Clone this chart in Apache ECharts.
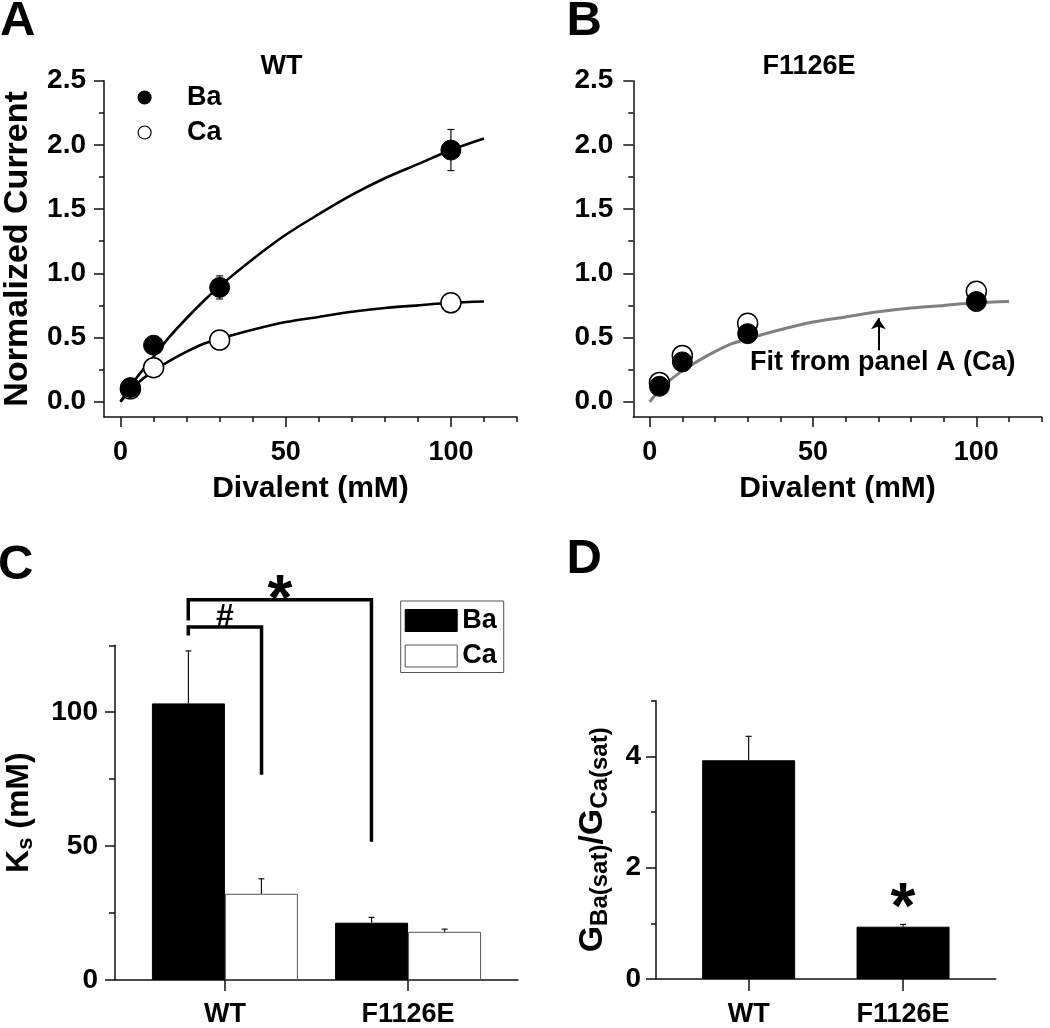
<!DOCTYPE html>
<html><head><meta charset="utf-8">
<script src="https://cdn.jsdelivr.net/npm/echarts@6/dist/echarts.min.js"></script>
<style>html,body{margin:0;padding:0;background:#fff}#c{width:1050px;height:1028px}</style>
</head><body><div id="c"></div>
<script>
// ---------- Panels A & B : concentration-response ----------
const concentrations = [3, 10, 30, 100];
const wtBa = [0.11, 0.44, 0.89, 1.96];
const wtBaErr = [0.02, 0.03, 0.09, 0.16];
const wtCa = [0.10, 0.265, 0.48, 0.77];
const wtCaErr = [0.01, 0.02, 0.02, 0.03];
const mutBa = [0.12, 0.31, 0.53, 0.78];
const mutCa = [0.15, 0.36, 0.61, 0.86];
const fitX = [0, 5, 10, 15, 20, 25, 30, 40, 50, 60, 70, 80, 90, 100, 110];
const fitBa = [0, 0.19, 0.35, 0.51, 0.65, 0.78, 0.90, 1.11, 1.30, 1.46, 1.61, 1.74, 1.85, 1.96, 2.05];
const fitCa = [0, 0.14, 0.24, 0.32, 0.39, 0.45, 0.49, 0.56, 0.62, 0.66, 0.70, 0.73, 0.75, 0.77, 0.78];
const curveMajorY = [0, 0.5, 1, 1.5, 2, 2.5];
const curveMinorY = [0.25, 0.75, 1.25, 1.75, 2.25];
const curveMajorX = [0, 50, 100];
const curveMinorX = [10, 20, 30, 40, 60, 70, 80, 90, 110, 120];
const fitNote = 'Fit from panel A (Ca)';
const fitNoteX = 30.7, fitNoteY = 0.305;
const arrowX = 70, arrowY = [0.40, 0.65];

// ---------- Panel C : Ks ----------
const groups = ['WT', 'F1126E'];
const groupPos = [1, 2];
const ksBa = [103.3, 21.4];
const ksBaErr = [19.6, 2.0];
const ksCa = [32.2, 18.0];
const ksCaErr = [5.6, 1.0];
const ksMajor = [0, 50, 100];
const ksMinor = [25, 75, 125];
const hashBracketX = [0.8, 0.8, 1.2, 1.2];
const hashBracketY = [128.7, 131.8, 131.8, 76.7];
const starBracketX = [0.8, 0.8, 1.8, 1.8];
const starBracketY = [134.3, 142, 142, 51.6];
const sigText = ['#', '*'];
const sigX = [1.0, 1.3];
const sigY = [135.5, 146];

// ---------- Panel D : G ratio ----------
const ratio = [3.93, 0.94];
const ratioErr = [0.43, 0.04];
const ratioMajor = [0, 2, 4];
const ratioMinor = [1, 3, 5];
const ratioSigText = ['*'];
const ratioSigX = [2];
const ratioSigY = [1.46];

const FONT = '"Liberation Sans", Arial, Helvetica, sans-serif';
const AX = '#111';
const txt = (size) => ({fontSize: size, fontWeight: 'bold', fontFamily: FONT, color: '#000'});

function axisPair(kind, grid, min, max, major, minor, majLen, minLen, labelOpt, nameOpt) {
  const pos = kind === 'x' ? 'bottom' : 'left';
  const main = Object.assign({
    gridIndex: grid, type: 'value', min, max, position: pos, offset: 0,
    axisLine: {show: true, onZero: false, lineStyle: {color: AX, width: 1.5}},
    axisTick: {show: true, length: majLen, customValues: major, lineStyle: {color: AX, width: 1.5}},
    axisLabel: Object.assign({show: !!labelOpt, customValues: major}, labelOpt || {}),
    splitLine: {show: false}
  }, nameOpt || {});
  const list = [main];
  if (minor) list.push({
    gridIndex: grid, type: 'value', min, max, position: pos, offset: 0,
    axisLine: {show: false, onZero: false},
    axisTick: {show: true, length: minLen, customValues: minor, lineStyle: {color: AX, width: 1.5}},
    axisLabel: {show: false}, splitLine: {show: false}
  });
  return list;
}

const xLab = Object.assign({margin: 22}, txt(27));
const xName = {name: 'Divalent (mM)', nameLocation: 'middle', nameGap: 57, nameTextStyle: txt(30)};
const catLab = Object.assign({margin: 21, formatter: v => groups[groupPos.indexOf(v)]}, txt(27));

const xAxes = [].concat(
  axisPair('x', 0, -5, 120, curveMajorX, curveMinorX, 10, 5, xLab, xName),        // 0,1
  axisPair('x', 1, -5, 120, curveMajorX, curveMinorX, 10, 5, xLab, xName),        // 2,3
  axisPair('x', 2, 0.4, 2.6, groupPos, null, 11, 0, catLab),                      // 4
  axisPair('x', 3, 0.4, 2.6, groupPos, null, 12, 0, Object.assign({}, catLab, {margin: 22})) // 5
);
const yAxes = [].concat(
  axisPair('y', 0, -0.12, 2.5, curveMajorY, curveMinorY, 10, 5,
    Object.assign({margin: 18, formatter: v => v.toFixed(1)}, txt(28)),
    {name: 'Normalized Current', nameLocation: 'middle', nameRotate: 90, nameGap: 69, nameTextStyle: txt(34)}), // 0,1
  axisPair('y', 1, -0.12, 2.5, curveMajorY, curveMinorY, 10, 5,
    Object.assign({margin: 20, formatter: v => v.toFixed(1)}, txt(28))),          // 2,3
  axisPair('y', 2, 0, 125, ksMajor, ksMinor, 10, 6,
    Object.assign({margin: 17}, txt(28)),
    {name: '{m|K}{s|s}{m| (mM)}', nameLocation: 'middle', nameRotate: 90, nameGap: 78,
     nameTextStyle: {color: '#000', rich: {
       m: {fontSize: 32, fontWeight: 'bold', fontFamily: FONT, color: '#000'},
       s: {fontSize: 22, fontWeight: 'bold', fontFamily: FONT, color: '#000', padding: [14, 0, 0, 0]}}}}), // 4,5
  axisPair('y', 3, 0, 5, ratioMajor, ratioMinor, 10, 5,
    Object.assign({margin: 15}, txt(28)),
    {name: '{m|G}{s|Ba(sat)}{m|/G}{s|Ca(sat)}', nameLocation: 'middle', nameRotate: 90, nameGap: 44,
     nameTextStyle: {color: '#000', rich: {
       m: {fontSize: 34, fontWeight: 'bold', fontFamily: FONT, color: '#000'},
       s: {fontSize: 24, fontWeight: 'bold', fontFamily: FONT, color: '#000', padding: [14, 0, 0, 0]}}}}) // 6,7
);

function errorBars(xi, yi, data, pxOffset, capHalf, both, z) {
  return {
    type: 'custom', xAxisIndex: xi, yAxisIndex: yi, data, z, silent: true, clip: false,
    encode: {x: 0, y: [1, 2]},
    renderItem(params, api) {
      const x = api.value(0), lo = api.value(1), hi = api.value(2);
      const p1 = api.coord([x, hi]), p0 = api.coord([x, lo]);
      const cx = p1[0] + pxOffset;
      const st = {stroke: '#111', lineWidth: 1.2};
      const ch = [
        {type: 'line', shape: {x1: cx, y1: p1[1], x2: cx, y2: p0[1]}, style: st},
        {type: 'line', shape: {x1: cx - capHalf, y1: p1[1], x2: cx + capHalf, y2: p1[1]}, style: st}
      ];
      if (both) ch.push({type: 'line', shape: {x1: cx - capHalf, y1: p0[1], x2: cx + capHalf, y2: p0[1]}, style: st});
      return {type: 'group', children: ch};
    }
  };
}
function textMarks(xi, yi, xs, ys, texts) {
  return {
    type: 'scatter', xAxisIndex: xi, yAxisIndex: yi, clip: false, silent: true, z: 8,
    symbolSize: 1, itemStyle: {color: 'transparent', opacity: 1},
    data: xs.map((x, i) => ({
      value: [x, ys[i]],
      label: {formatter: texts[i], fontSize: texts[i] === '*' ? 64 : 32, offset: [0, texts[i] === '*' ? 13 : 0]}
    })),
    label: {show: true, position: 'inside', align: 'center', verticalAlign: 'middle', opacity: 1,
            fontWeight: 'bold', fontFamily: FONT, color: '#000'}
  };
}
const pairs = (xs, ys) => xs.map((x, i) => [x, ys[i]]);
const openDot = {color: '#fff', borderColor: '#000', borderWidth: 1.5, opacity: 1};
const fullDot = {color: '#000', borderColor: '#000', borderWidth: 1, opacity: 1};

const series = [
  // Panel A
  {name: 'Ca', type: 'scatter', xAxisIndex: 0, yAxisIndex: 0, data: pairs(concentrations, wtCa), symbolSize: 20,
   itemStyle: openDot, z: 4},
  {name: 'Ba', type: 'scatter', xAxisIndex: 0, yAxisIndex: 0, data: pairs(concentrations, wtBa), symbolSize: 20,
   itemStyle: fullDot, z: 5},
  {type: 'line', xAxisIndex: 0, yAxisIndex: 0, data: pairs(fitX, fitBa), smooth: 0.3, symbol: 'none', silent: true,
   lineStyle: {color: '#000', width: 2.6}, z: 2},
  {type: 'line', xAxisIndex: 0, yAxisIndex: 0, data: pairs(fitX, fitCa), smooth: 0.3, symbol: 'none', silent: true,
   lineStyle: {color: '#000', width: 2.6}, z: 2},
  errorBars(0, 0, concentrations.map((c, i) => [c, wtBa[i] - wtBaErr[i], wtBa[i] + wtBaErr[i]]), 0, 3.5, true, 3),
  errorBars(0, 0, concentrations.map((c, i) => [c, wtCa[i] - wtCaErr[i], wtCa[i] + wtCaErr[i]]), 0, 3.5, true, 3),
  // Panel B
  {type: 'line', xAxisIndex: 2, yAxisIndex: 2, data: pairs(fitX, fitCa), smooth: 0.3, symbol: 'none', silent: true,
   lineStyle: {color: '#808080', width: 3}, z: 2,
   markLine: {silent: true, symbol: ['none', 'arrow'], symbolSize: 11, label: {show: false},
     lineStyle: {color: '#000', width: 2, type: 'solid'},
     data: [[{coord: [arrowX, arrowY[0]]}, {coord: [arrowX, arrowY[1]]}]]}},
  {name: 'Ca F1126E', type: 'scatter', xAxisIndex: 2, yAxisIndex: 2, data: pairs(concentrations, mutCa), symbolSize: 20,
   itemStyle: openDot, z: 4},
  {name: 'Ba F1126E', type: 'scatter', xAxisIndex: 2, yAxisIndex: 2, data: pairs(concentrations, mutBa), symbolSize: 20,
   itemStyle: fullDot, z: 5},
  {type: 'scatter', xAxisIndex: 2, yAxisIndex: 2, data: [[fitNoteX, fitNoteY]], symbolSize: 1, silent: true,
   itemStyle: {color: 'transparent', opacity: 1}, z: 8,
   label: Object.assign({show: true, position: 'inside', align: 'left', verticalAlign: 'middle', opacity: 1, formatter: fitNote}, txt(27))},
  // Panel C
  {name: 'Ba bar', type: 'bar', xAxisIndex: 4, yAxisIndex: 4, data: pairs(groupPos, ksBa), barWidth: 73, barGap: '0%',
   itemStyle: {color: '#000', borderColor: '#000', borderWidth: 1}, z: 2},
  {name: 'Ca bar', type: 'bar', xAxisIndex: 4, yAxisIndex: 4, data: pairs(groupPos, ksCa), barWidth: 73, barGap: '0%',
   itemStyle: {color: '#fff', borderColor: '#555', borderWidth: 1}, z: 2},
  errorBars(4, 4, groupPos.map((p, i) => [p, ksBa[i], ksBa[i] + ksBaErr[i]]), -36.5, 3, false, 3),
  errorBars(4, 4, groupPos.map((p, i) => [p, ksCa[i], ksCa[i] + ksCaErr[i]]), 36.5, 3, false, 3),
  {type: 'line', xAxisIndex: 4, yAxisIndex: 4, data: pairs(hashBracketX, hashBracketY), symbol: 'none', clip: false,
   silent: true, lineStyle: {color: '#000', width: 3.5, cap: 'butt', join: 'miter'}, z: 6},
  {type: 'line', xAxisIndex: 4, yAxisIndex: 4, data: pairs(starBracketX, starBracketY), symbol: 'none', clip: false,
   silent: true, lineStyle: {color: '#000', width: 3.5, cap: 'butt', join: 'miter'}, z: 6},
  textMarks(4, 4, sigX, sigY, sigText),
  // Panel D
  {type: 'bar', xAxisIndex: 5, yAxisIndex: 6, data: pairs(groupPos, ratio), barWidth: 93,
   itemStyle: {color: '#000', borderColor: '#000', borderWidth: 1}, z: 2},
  errorBars(5, 6, groupPos.map((p, i) => [p, ratio[i], ratio[i] + ratioErr[i]]), 0, 3, false, 3),
  textMarks(5, 6, ratioSigX, ratioSigY, ratioSigText)
];

const gtext = (t, x, y, size, align) => ({
  type: 'text', x, y, silent: true,
  style: {text: t, fontSize: size, fontWeight: 'bold', fontFamily: FONT, fill: '#000',
          align: align, textAlign: align, verticalAlign: 'top', textVerticalAlign: 'top'}
});

const option = {
  animation: false,
  backgroundColor: '#fff',
  grid: [
    {left: 103, top: 80.7, width: 414, height: 336.4},
    {left: 633.3, top: 80.7, width: 408.4, height: 336.4},
    {left: 115, top: 645.3, width: 403, height: 336.4},
    {left: 656, top: 700.7, width: 339.7, height: 279.3}
  ],
  xAxis: xAxes,
  yAxis: yAxes,
  legend: [
    {data: ['Ba', 'Ca'], orient: 'vertical', left: 137.5, top: 84, padding: 0, itemWidth: 13, itemHeight: 13,
     itemGap: 8, selectedMode: false, itemStyle: {borderWidth: 1.2},
     textStyle: Object.assign({padding: [0, 0, 0, 31]}, txt(27))},
    {data: ['Ba bar', 'Ca bar'], formatter: n => n.replace(' bar', ''), orient: 'vertical', left: 400.7, top: 601,
     padding: [6, 7, 3, 4], itemWidth: 52, itemHeight: 22, itemGap: 8.5, icon: 'rect', selectedMode: false,
     borderColor: '#555', borderWidth: 1, itemStyle: {borderWidth: 1},
     textStyle: txt(27)}
  ],
  graphic: [
    gtext('A', 0, -3.4, 49, 'left'),
    gtext('B', 566.5, -3.4, 49, 'left'),
    gtext('C', -2, 540.6, 49, 'left'),
    gtext('D', 566.5, 535.3, 49, 'left'),
    gtext('WT', 281.5, 53, 27, 'center'),
    gtext('F1126E', 809, 53, 27, 'center')
  ],
  series
};
const chart = echarts.init(document.getElementById('c'), null, {renderer: 'canvas'});
chart.setOption(option);
</script></body></html>
